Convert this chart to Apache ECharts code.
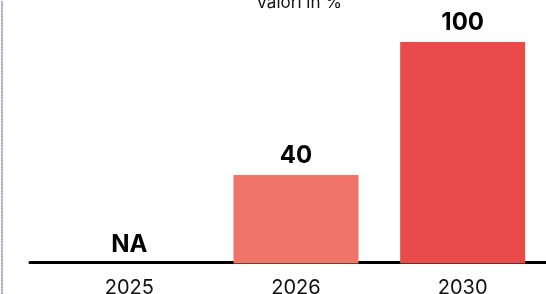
<!DOCTYPE html>
<html><head><meta charset="utf-8">
<script src="https://cdn.jsdelivr.net/npm/echarts@6/dist/echarts.min.js"></script>
<style>html,body{margin:0;padding:0;background:#fff}#c{width:546px;height:294px}</style>
</head><body><div id="c"></div>
<script>
const categories = ["2025", "2026", "2030"];
const values = [null, 40, 100];
const barColors = ["#F07468", "#F07468", "#E94A4A"];
const titleText = "Valori in %";

const chart = echarts.init(document.getElementById('c'));
const font = 'Inter';
chart.setOption({
  animation: false,
  title: { text: titleText, left: 251, top: -11, textStyle: { fontFamily: font, fontSize: 17, fontWeight: 'normal', color: '#111' } },
  grid: [
    { left: 46, right: 0, top: 42, bottom: 30.5, outerBoundsMode: 'none', containLabel: false },
    { left: 30, right: 0, top: 42, bottom: 31.5, outerBoundsMode: 'none', containLabel: false },
    { left: 2, right: 0, top: 0, bottom: 0, outerBoundsMode: 'none', containLabel: false }
  ],
  xAxis: [
    { type: 'category', gridIndex: 0, data: categories,
      axisLine: { show: false }, axisTick: { show: false },
      axisLabel: { margin: 14, fontFamily: font, fontSize: 20, color: '#111' } },
    { type: 'value', gridIndex: 1, min: 0, max: 1,
      axisLine: { show: true, lineStyle: { color: '#000', width: 3 } },
      axisTick: { show: false }, axisLabel: { show: false }, splitLine: { show: false } },
    { type: 'value', gridIndex: 2, show: false, min: 0, max: 1 }
  ],
  yAxis: [
    { type: 'value', gridIndex: 0, min: 0, max: 100, show: false, splitLine: { show: false } },
    { type: 'value', gridIndex: 1, min: 0, max: 1, show: false },
    { type: 'value', gridIndex: 2, min: 0, max: 1, show: true,
      axisLine: { show: true, lineStyle: { color: '#8c90b0', width: 1.5, type: [1.5, 1.5] } },
      axisTick: { show: false }, axisLabel: { show: false }, splitLine: { show: false } }
  ],
  series: [{
    type: 'bar', xAxisIndex: 0, yAxisIndex: 0,
    barWidth: '75%', z: 1,
    data: values.map((v, i) => ({
      value: v === null ? 0 : v,
      itemStyle: { color: barColors[i] },
      label: { formatter: v === null ? 'NA' : String(v) }
    })),
    label: { show: true, position: 'top', distance: 7, fontFamily: font, fontSize: 24, fontWeight: 'bold', color: '#000' }
  }]
});
</script></body></html>
